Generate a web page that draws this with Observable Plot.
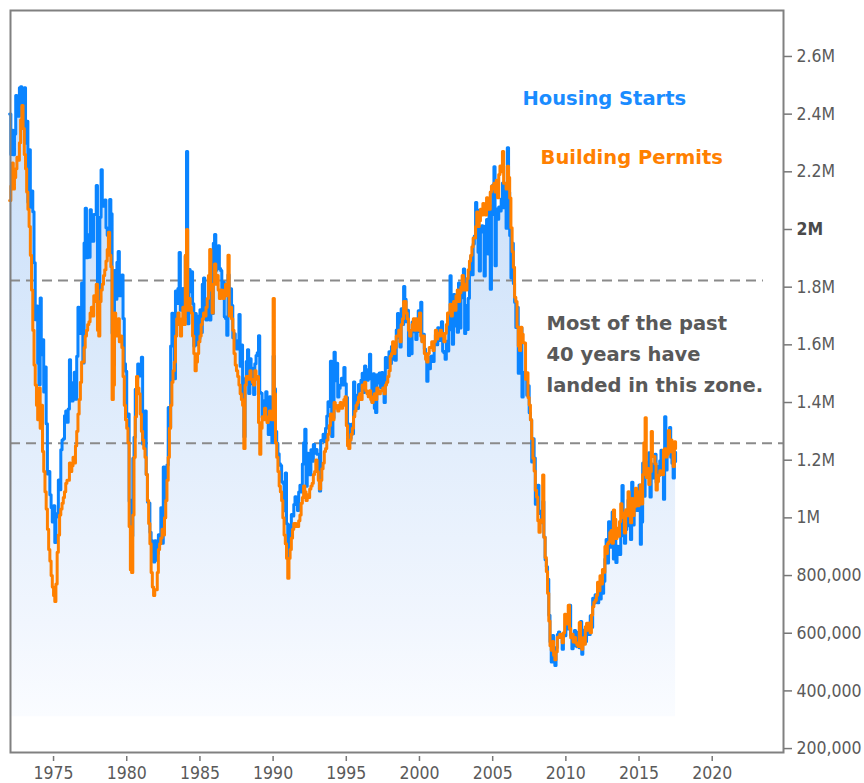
<!DOCTYPE html>
<html>
<head>
<meta charset="utf-8">
<script src="https://cdn.jsdelivr.net/npm/d3@7"></script>
<script src="https://cdn.jsdelivr.net/npm/@observablehq/plot@0.6"></script>
<style>
  html, body { margin: 0; padding: 0; background: #ffffff; overflow: hidden; }
  #chart svg { display: block; }
</style>
</head>
<body>
<div id="chart"></div>
<script>
// ---------------- DATA (monthly, thousands of units, SAAR), starting January 1972 ----------------
const startYear = 1972;

const housingStarts = [
  2390, 2250, 2334, 2249, 2321, 2454, 2452, 2382, 2481, 2485, 2421, 2366, // 1972
  2481, 2289, 2365, 2084, 2266, 2067, 2123, 2051, 1874, 1677, 1724, 1526, // 1973
  1451, 1752, 1555, 1607, 1426, 1513, 1316, 1142, 1150, 1070, 1026, 975,  // 1974
  1032, 904, 993, 1005, 1121, 1087, 1226, 1260, 1264, 1344, 1360, 1321,   // 1975
  1367, 1538, 1421, 1395, 1459, 1495, 1401, 1550, 1720, 1629, 1641, 1804, // 1976
  1527, 1943, 2063, 1892, 1971, 1893, 2058, 2020, 1949, 2042, 2042, 2142, // 1977
  1718, 1738, 2032, 2197, 2075, 2070, 2092, 1996, 1970, 1981, 2094, 2044, // 1978
  1630, 1520, 1847, 1748, 1876, 1913, 1760, 1778, 1832, 1681, 1524, 1498, // 1979
  1341, 1350, 1047, 1051, 927, 1196, 1269, 1436, 1471, 1523, 1510, 1482,  // 1980
  1547, 1246, 1306, 1360, 1140, 1045, 1041, 940, 911, 873, 837, 910,      // 1981
  843, 866, 931, 917, 1025, 902, 1166, 1046, 1144, 1173, 1372, 1303,      // 1982
  1586, 1699, 1606, 1472, 1776, 1733, 1785, 1910, 1710, 1715, 1785, 1688, // 1983
  1897, 2260, 1663, 1851, 1774, 1843, 1732, 1586, 1698, 1590, 1689, 1612, // 1984
  1711, 1632, 1800, 1821, 1680, 1676, 1684, 1743, 1676, 1834, 1698, 1942, // 1985
  1972, 1848, 1876, 1933, 1854, 1847, 1782, 1807, 1687, 1681, 1623, 1833, // 1986
  1774, 1784, 1726, 1614, 1628, 1594, 1575, 1605, 1695, 1515, 1589, 1422, // 1987
  1271, 1473, 1532, 1573, 1421, 1541, 1509, 1455, 1417, 1524, 1553, 1562, // 1988
  1621, 1425, 1422, 1339, 1331, 1397, 1427, 1332, 1279, 1410, 1351, 1251, // 1989
  1551, 1437, 1289, 1248, 1212, 1177, 1171, 1115, 1110, 1014, 1145, 969,  // 1990
  850, 965, 921, 1001, 996, 1036, 1063, 1049, 1015, 1079, 1103, 1079,     // 1991
  1176, 1250, 1297, 1099, 1214, 1145, 1139, 1226, 1186, 1244, 1214, 1227, // 1992
  1210, 1210, 1083, 1258, 1260, 1280, 1254, 1300, 1343, 1392, 1376, 1533, // 1993
  1272, 1337, 1564, 1465, 1526, 1409, 1439, 1450, 1474, 1450, 1511, 1455, // 1994
  1407, 1316, 1249, 1267, 1314, 1281, 1461, 1416, 1369, 1369, 1452, 1431, // 1995
  1467, 1491, 1424, 1516, 1504, 1467, 1472, 1557, 1475, 1392, 1489, 1370, // 1996
  1355, 1486, 1457, 1492, 1442, 1494, 1437, 1390, 1546, 1520, 1510, 1566, // 1997
  1525, 1584, 1567, 1540, 1536, 1641, 1698, 1614, 1582, 1715, 1660, 1792, // 1998
  1748, 1670, 1710, 1553, 1611, 1559, 1669, 1648, 1635, 1608, 1648, 1708, // 1999
  1636, 1737, 1604, 1626, 1575, 1559, 1463, 1541, 1507, 1549, 1551, 1532, // 2000
  1600, 1625, 1590, 1649, 1605, 1636, 1670, 1567, 1562, 1540, 1602, 1568, // 2001
  1698, 1829, 1642, 1592, 1764, 1717, 1655, 1633, 1804, 1648, 1753, 1788, // 2002
  1853, 1629, 1726, 1643, 1751, 1867, 1897, 1833, 1939, 1967, 2083, 2057, // 2003
  1911, 1846, 1998, 2003, 1981, 1828, 2002, 2024, 1905, 2072, 1782, 2042, // 2004
  2144, 2207, 1864, 2061, 2025, 2068, 2054, 2095, 2151, 2065, 2147, 1994, // 2005
  2273, 2119, 1969, 1821, 1942, 1802, 1737, 1650, 1720, 1491, 1570, 1649, // 2006
  1409, 1480, 1495, 1490, 1415, 1448, 1354, 1330, 1183, 1264, 1197, 1037, // 2007
  1084, 1103, 1005, 1013, 973, 1046, 923, 844, 820, 777, 652, 560,        // 2008
  490, 582, 505, 478, 540, 585, 594, 586, 585, 534, 588, 581,             // 2009
  614, 604, 636, 687, 583, 536, 546, 599, 594, 543, 545, 539,             // 2010
  630, 517, 600, 554, 561, 608, 623, 585, 650, 610, 711, 694,             // 2011
  723, 704, 695, 753, 708, 757, 728, 770, 847, 915, 833, 976,             // 2012
  888, 962, 1010, 847, 925, 835, 891, 883, 863, 928, 1102, 1003,          // 2013
  902, 949, 962, 1052, 987, 915, 1113, 965, 1034, 1071, 1015, 1071,       // 2014
  1104, 898, 975, 1180, 1065, 1183, 1148, 1133, 1215, 1062, 1176, 1160,   // 2015
  1128, 1210, 1113, 1168, 1137, 1188, 1224, 1141, 1054, 1340, 1156, 1279, // 2016
  1245, 1303, 1200, 1179, 1128, 1217, 1185                                // 2017
];

const buildingPermits = [
  2090, 2140, 2220, 2130, 2170, 2200, 2240, 2230, 2290, 2370, 2420, 2340, // 1972
  2250, 2200, 2120, 2060, 2000, 1900, 1780, 1640, 1520, 1450, 1380, 1330, // 1973
  1440, 1300, 1380, 1220, 1150, 1080, 1020, 950, 880, 840, 790, 750,      // 1974
  720, 700, 760, 870, 930, 1000, 1020, 1040, 1060, 1080, 1110, 1120,      // 1975
  1120, 1180, 1150, 1170, 1200, 1180, 1240, 1290, 1350, 1400, 1460, 1530, // 1976
  1530, 1580, 1620, 1640, 1660, 1670, 1700, 1720, 1690, 1760, 1740, 1800, // 1977
  1640, 1620, 1740, 1780, 1800, 1830, 1850, 1880, 1920, 1980, 1900, 1860, // 1978
  1400, 1450, 1700, 1640, 1620, 1680, 1600, 1620, 1580, 1480, 1380, 1330, // 1979
  1300, 1250, 960, 810, 800, 1000, 1200, 1340, 1480, 1440, 1420, 1350,    // 1980
  1290, 1260, 1230, 1200, 1140, 1050, 970, 900, 800, 750, 720, 740,       // 1981
  740, 800, 880, 900, 920, 950, 930, 990, 1050, 1120, 1200, 1300,         // 1982
  1380, 1460, 1500, 1530, 1620, 1680, 1700, 1660, 1620, 1680, 1720, 1660, // 1983
  1900, 1990, 1710, 1750, 1720, 1700, 1620, 1560, 1500, 1530, 1560, 1600, // 1984
  1620, 1660, 1680, 1700, 1690, 1720, 1750, 1830, 1920, 1780, 1700, 1800, // 1985
  1870, 1800, 1830, 1780, 1750, 1780, 1760, 1750, 1780, 1800, 1760, 1900, // 1986
  1690, 1720, 1680, 1640, 1560, 1520, 1500, 1480, 1450, 1420, 1400, 1380, // 1987
  1230, 1450, 1480, 1480, 1470, 1500, 1470, 1460, 1450, 1500, 1470, 1480, // 1988
  1320, 1210, 1300, 1340, 1330, 1370, 1340, 1320, 1330, 1360, 1340, 1330, // 1989
  1750, 1420, 1250, 1200, 1150, 1100, 1080, 1050, 990, 930, 900, 850,     // 1990
  780, 850, 880, 920, 950, 970, 970, 960, 960, 980, 1000, 1040,           // 1991
  1060, 1100, 1080, 1050, 1070, 1060, 1090, 1100, 1110, 1140, 1150, 1190, // 1992
  1150, 1120, 1090, 1120, 1160, 1180, 1220, 1230, 1260, 1280, 1310, 1350, // 1993
  1330, 1330, 1390, 1380, 1370, 1360, 1380, 1390, 1370, 1380, 1400, 1410, // 1994
  1310, 1240, 1230, 1260, 1280, 1300, 1340, 1360, 1380, 1390, 1410, 1420, // 1995
  1400, 1450, 1440, 1460, 1430, 1420, 1410, 1430, 1400, 1390, 1410, 1420, // 1996
  1400, 1440, 1430, 1420, 1430, 1430, 1440, 1420, 1450, 1460, 1480, 1500, // 1997
  1550, 1560, 1600, 1560, 1580, 1620, 1620, 1640, 1600, 1660, 1680, 1740, // 1998
  1740, 1700, 1680, 1640, 1620, 1640, 1660, 1680, 1640, 1680, 1660, 1640, // 1999
  1700, 1620, 1600, 1620, 1560, 1540, 1530, 1560, 1580, 1580, 1600, 1570, // 2000
  1600, 1640, 1610, 1630, 1620, 1640, 1630, 1620, 1600, 1630, 1660, 1700, // 2001
  1700, 1730, 1690, 1720, 1740, 1710, 1760, 1780, 1740, 1770, 1790, 1830, // 2002
  1780, 1800, 1780, 1820, 1850, 1880, 1900, 1930, 1960, 1960, 2000, 2050, // 2003
  2000, 2020, 2060, 2040, 2080, 2050, 2040, 2100, 2080, 2060, 2120, 2140, // 2004
  2130, 2150, 2120, 2160, 2100, 2180, 2210, 2190, 2260, 2150, 2150, 2130, // 2005
  2209, 2170, 2099, 1996, 1913, 1859, 1755, 1740, 1652, 1586, 1570, 1651, // 2006
  1626, 1598, 1596, 1470, 1493, 1407, 1381, 1330, 1264, 1196, 1152, 1085, // 2007
  1062, 980, 940, 982, 974, 1138, 922, 852, 804, 728, 632, 546,           // 2008
  531, 561, 513, 498, 525, 576, 575, 586, 586, 557, 591, 655,             // 2009
  622, 650, 687, 606, 574, 586, 559, 575, 557, 550, 544, 627,             // 2010
  563, 534, 574, 551, 612, 624, 600, 625, 591, 653, 681, 697,             // 2011
  704, 721, 766, 737, 789, 760, 811, 801, 890, 866, 900, 906,             // 2012
  939, 946, 902, 1017, 985, 918, 954, 926, 977, 1039, 1007, 991,          // 2013
  937, 1018, 997, 1080, 1005, 973, 1057, 998, 1028, 1092, 1035, 1032,     // 2014
  1081, 1104, 1038, 1140, 1250, 1337, 1130, 1161, 1105, 1150, 1289, 1204, // 2015
  1202, 1177, 1086, 1116, 1138, 1153, 1144, 1139, 1225, 1229, 1201, 1210, // 2016
  1293, 1219, 1260, 1228, 1168, 1254, 1230                                // 2017
];

const yTicks = [200000, 400000, 600000, 800000, 1000000, 1200000, 1400000,
                1600000, 1800000, 2000000, 2200000, 2400000, 2600000];
const xTickYears = [1975, 1980, 1985, 1990, 1995, 2000, 2005, 2010, 2015, 2020];
const zoneLines = [1813000, 1248000];           // upper and lower bounds of the "zone"
const seriesNames = ["Housing Starts", "Building Permits"];
const zoneNote = "Most of the past\n40 years have\nlanded in this zone.";

// ---------------- helpers ----------------
const monthDate = i => new Date(Date.UTC(startYear + Math.floor(i / 12), i % 12, 1));
const yearDate = y => {
  const f = Math.floor(y);
  return new Date(Date.UTC(f, 0, 1) + (y - f) * 365.25 * 864e5);
};
const rows = housingStarts.map((v, i) => ({
  date: monthDate(i),
  starts: v * 1000,
  permits: buildingPermits[i] * 1000
}));
const xTicks = xTickYears.map(y => new Date(Date.UTC(y, 0, 1)));
const fmtY = d => d >= 1e6 ? `${+(d / 1e6).toFixed(1)}M` : d3.format(",")(d);

const BLUE = "#0a84ff";
const ORANGE = "#ff8000";
const axisFont = "'DejaVu Sans Condensed', 'Liberation Sans Narrow', 'DejaVu Sans', sans-serif";
const labelFont = "'DejaVu Sans', Verdana, sans-serif";

const chart = Plot.plot({
  width: 864,
  height: 783,
  marginLeft: 10,
  marginRight: 81,
  marginTop: 10,
  marginBottom: 31,
  style: { fontFamily: axisFont, background: "#ffffff", overflow: "visible" },
  x: { type: "utc", domain: [yearDate(1972.06), yearDate(2024.87)] },
  y: { domain: [176000, 2749000] },
  marks: [
    Plot.areaY(rows, {
      x: "date", y1: () => 300000, y2: "starts",
      curve: "step-after", fill: "url(#startsFade)"
    }),
    Plot.ruleY([zoneLines[0]], {
      y: d => d, x1: () => yearDate(1972.06), x2: () => yearDate(2023.5),
      stroke: "#8a8a8a", strokeWidth: 2, strokeDasharray: "10,6"
    }),
    Plot.ruleY([zoneLines[1]], {
      y: d => d, x1: () => yearDate(1972.06), x2: () => yearDate(2024.87),
      stroke: "#8a8a8a", strokeWidth: 2, strokeDasharray: "10,6"
    }),
    Plot.line(rows, { x: "date", y: "starts", stroke: BLUE, strokeWidth: 3, curve: "step-after" }),
    Plot.line(rows, { x: "date", y: "permits", stroke: ORANGE, strokeWidth: 3, curve: "step-after" }),
    Plot.frame({ stroke: "#808080", strokeWidth: 2 }),
    Plot.axisY(yTicks, {
      anchor: "right", tickSize: 8, tickPadding: 5, tickFormat: fmtY,
      fontSize: 17.5, stroke: "#777", strokeWidth: 1.5, fill: "#5a5a5a", label: null, dy: 3
    }),
    Plot.axisX(xTicks, {
      anchor: "bottom", tickSize: 5, tickPadding: 9, tickFormat: d3.utcFormat("%Y"),
      fontSize: 17.5, stroke: "#777", strokeWidth: 1.5, fill: "#5a5a5a", label: null
    }),
    Plot.text([seriesNames[0]], {
      x: () => yearDate(2007.04), y: () => 2444000, text: d => d,
      textAnchor: "start", fill: "#1a8cff", fontWeight: "bold", fontSize: 19.5, fontFamily: labelFont
    }),
    Plot.text([seriesNames[1]], {
      x: () => yearDate(2008.27), y: () => 2239500, text: d => d,
      textAnchor: "start", fill: ORANGE, fontWeight: "bold", fontSize: 19.5, fontFamily: labelFont
    }),
    Plot.text([zoneNote], {
      x: () => yearDate(2008.68), y: () => 1567800, text: d => d,
      textAnchor: "start", lineAnchor: "middle", lineHeight: 1.59,
      fill: "#595959", fontWeight: "bold", fontSize: 19.5, fontFamily: labelFont
    })
  ]
});

// gradient fill for the area under Housing Starts
const NS = "http://www.w3.org/2000/svg";
const defs = document.createElementNS(NS, "defs");
defs.innerHTML =
  '<linearGradient id="startsFade" x1="0" y1="0" x2="0" y2="1">' +
  '<stop offset="0" stop-color="#c6ddf9"/>' +
  '<stop offset="0.45" stop-color="#dceafb"/>' +
  '<stop offset="0.85" stop-color="#f1f6fe"/>' +
  '<stop offset="1" stop-color="#fafcff"/>' +
  '</linearGradient>';
chart.insertBefore(defs, chart.firstChild);

// x ticks sit a little below the frame
const xt = chart.querySelector('g[aria-label="x-axis tick"]');
if (xt) xt.setAttribute("transform", (xt.getAttribute("transform") || "") + " translate(0,4)");

// "2M" label is bold
chart.querySelectorAll('g[aria-label="y-axis tick label"] text').forEach(t => {
  if (t.textContent.trim() === "2M") { t.setAttribute("font-weight", "bold"); t.setAttribute("fill", "#4a4a4a"); }
});

document.getElementById("chart").appendChild(chart);
</script>
</body>
</html>
